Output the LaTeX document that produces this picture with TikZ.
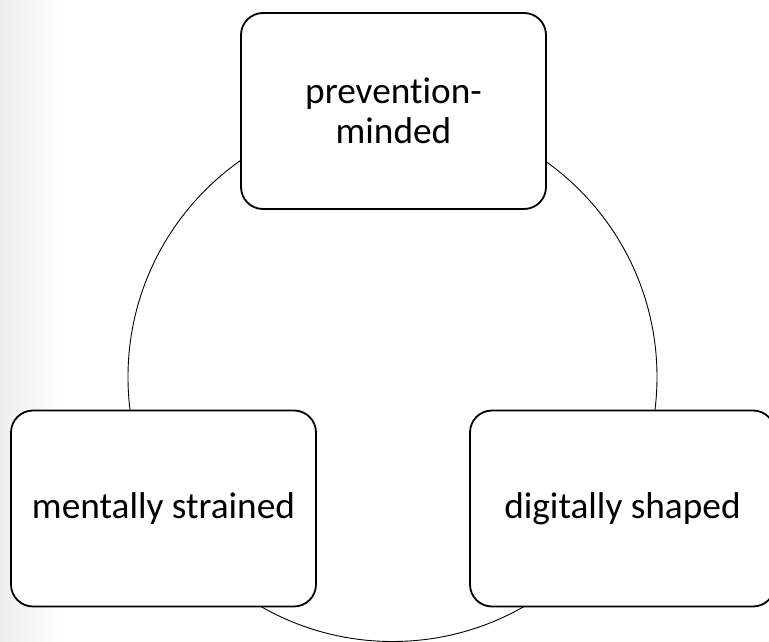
\documentclass[tikz,border=0pt]{standalone}
\usepackage{fontspec}
\setmainfont{Carlito}[Ligatures=NoCommon]
\begin{document}
\begin{tikzpicture}[x=1pt,y=-1pt,
  boxstyle/.style={draw=black, line width=1.8pt, fill=white, rounded corners=22pt,
    minimum width=305pt, minimum height=196pt, align=center, inner sep=0pt,
    font=\fontsize{37.3}{39.5}\selectfont},
  ringstyle/.style={draw=black, line width=0.9pt, circle, minimum size=529pt, inner sep=0pt}]
\useasboundingbox (0,0) rectangle (769,642);
\fill[white] (0,0) rectangle (769,642);
\shade[left color=black!7, right color=white] (0,0) rectangle (60,642);
\node[ringstyle] (ring) at (392.5,377) {};
\node[boxstyle] (top) at (393.5,111) {prevention-\\minded};
\node[boxstyle] (left) at (163.5,508.5) {mentally strained};
\node[boxstyle] (right) at (622.5,508.5) {digitally shaped};
\end{tikzpicture}
\end{document}
